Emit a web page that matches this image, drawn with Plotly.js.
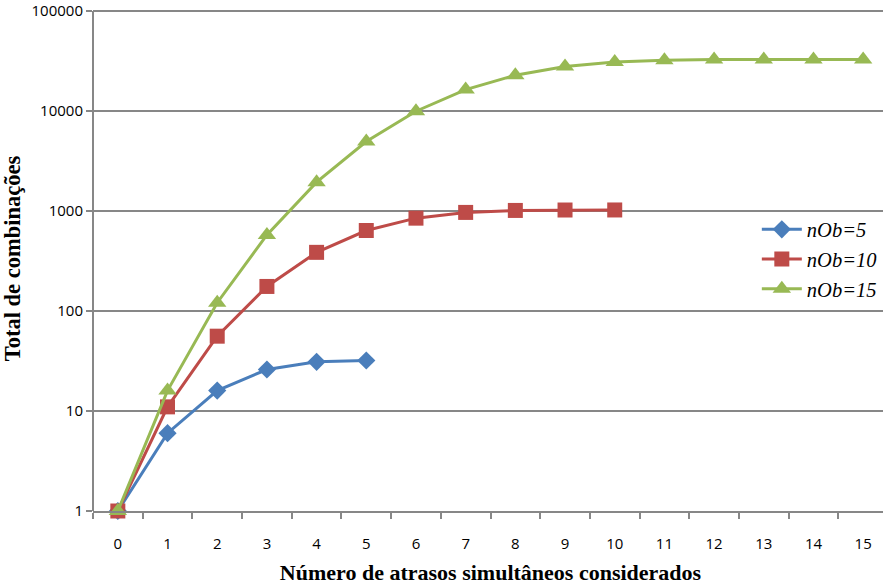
<!DOCTYPE html>
<html><head><meta charset="utf-8">
<script src="https://cdn.plot.ly/plotly-3.0.1.min.js"></script>
<style>html,body{margin:0;padding:0;background:#fff;overflow:hidden}#c{width:888px;height:585px}</style>
</head><body><div id="c"></div>
<script>
const categories = ['0','1','2','3','4','5','6','7','8','9','10','11','12','13','14','15'];
const seriesNames = ['nOb=5','nOb=10','nOb=15'];
const nOb5 = [1, 6, 16, 26, 31, 32];
const nOb10 = [1, 11, 56, 176, 386, 638, 848, 968, 1013, 1023, 1024];
const nOb15 = [1, 16, 121, 576, 1941, 4944, 9949, 16384, 22819, 27824, 30827, 32192, 32647, 32752, 32767, 32768];
const yTicks = [1, 10, 100, 1000, 10000, 100000];

const colors = ['#4a7ebb', '#be4b48', '#98b954'];
const symbols = ['diamond', 'square', 'triangle-up'];
const sizes = [14, 15, 16];
const data = [nOb5, nOb10, nOb15].map((vals, i) => ({
  x: categories.slice(0, vals.length),
  y: vals,
  name: seriesNames[i],
  type: 'scatter',
  mode: 'lines+markers',
  line: {color: colors[i], width: 3},
  marker: {color: colors[i], symbol: symbols[i], size: sizes[i]},
  cliponaxis: false
}));

const layout = {
  width: 888, height: 585,
  margin: {l: 93, r: 0, t: 6, b: 74},
  paper_bgcolor: '#fff', plot_bgcolor: '#fff',
  showlegend: true,
  legend: {
    x: 0.835, y: 0.597, xanchor: 'left', yanchor: 'top',
    bgcolor: 'rgba(0,0,0,0)', borderwidth: 0,
    font: {family: 'Liberation Serif', size: 20.5, color: '#000', style: 'italic'},
    itemwidth: 40, tracegroupgap: 0
  },
  xaxis: {
    type: 'category',
    range: [-0.5, 15.5],
    showgrid: false,
    showline: true, linecolor: '#878787', linewidth: 2,
    ticks: 'outside', tickson: 'boundaries', ticklen: 6, tickwidth: 2, tickcolor: '#878787',
    ticklabelstandoff: 18,
    tickfont: {family: 'Open Sans', size: 15, color: '#000'},
    title: {text: 'Número de atrasos simultâneos considerados', standoff: 13,
            font: {family: 'Liberation Serif', size: 22, color: '#000', weight: 'bold'}},
    zeroline: false, fixedrange: true
  },
  yaxis: {
    type: 'log',
    range: [0, 5.05],
    tickmode: 'array',
    tickvals: yTicks, ticktext: yTicks.map(String),
    showgrid: true, gridcolor: '#878787', gridwidth: 2,
    showline: false,
    ticks: 'outside', ticklen: 6, tickwidth: 2, tickcolor: '#878787',
    tickfont: {family: 'Open Sans', size: 15, color: '#000'},
    title: {text: 'Total de combinações', standoff: 10,
            font: {family: 'Liberation Serif', size: 22.5, color: '#000', weight: 'bold'}},
    zeroline: false, fixedrange: true
  },
  shapes: [{type: 'line', xref: 'paper', yref: 'y', x0: 0, x1: 0,
            y0: yTicks[0], y1: yTicks[yTicks.length - 1],
            line: {color: '#878787', width: 2}}]
};
Plotly.newPlot('c', data, layout, {displayModeBar: false, staticPlot: true});
</script></body></html>
